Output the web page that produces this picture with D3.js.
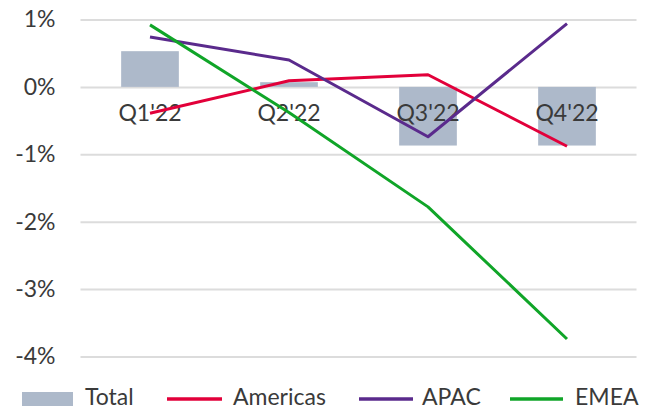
<!DOCTYPE html>
<html>
<head>
<meta charset="utf-8">
<script src="https://cdn.jsdelivr.net/npm/d3@7"></script>
<style>
  html, body { margin: 0; padding: 0; background: #fff; }
  svg { display: block; }
  text { font-family: Lato, "Open Sans", sans-serif; fill: #3a3a3a; }
</style>
</head>
<body>
<svg id="chart" width="656" height="412"></svg>
<script>
// Quarterly growth by region, with the total as bars
const categories = ["Q1'22", "Q2'22", "Q3'22", "Q4'22"];
const totalValues = [0.53, 0.07, -0.87, -0.87];
const americasValues = [-0.39, 0.09, 0.18, -0.88];
const apacValues = [0.74, 0.40, -0.74, 0.94];
const emeaValues = [0.92, -0.38, -1.78, -3.74];
const yTicks = [1, 0, -1, -2, -3, -4];

const lineSeries = [
  { name: "Americas", values: americasValues, color: "#e2003a" },
  { name: "APAC", values: apacValues, color: "#5a2a8c" },
  { name: "EMEA", values: emeaValues, color: "#10a528" }
];
const barColor = "#adb9ca";

const svg = d3.select("#chart");
const plotLeft = 80.5, plotRight = 636.5, plotTop = 19.5, plotBottom = 356.5;

const x = d3.scaleBand().domain(categories).range([plotLeft, plotRight]).padding(0);
const y = d3.scaleLinear().domain([-4, 1]).range([plotBottom, plotTop]);
const cx = c => x(c) + x.bandwidth() / 2;
const barW = x.bandwidth() * 0.415;

// horizontal gridlines
const grid = svg.append("g").attr("transform", `translate(${plotLeft},0)`)
  .call(d3.axisLeft(y).tickValues(yTicks).tickSize(-(plotRight - plotLeft)).tickFormat(""));
grid.select(".domain").remove();
grid.selectAll("line").attr("stroke", "#dcdcdc").attr("stroke-width", 2);

// y labels
const yAxis = svg.append("g").attr("transform", `translate(${plotLeft},0)`)
  .call(d3.axisLeft(y).tickValues(yTicks).tickSize(0).tickPadding(25).tickFormat(d => d + "%"));
yAxis.select(".domain").remove();
yAxis.selectAll("text").attr("font-size", 23).attr("font-family", null).attr("fill", "#3a3a3a");

// total bars
svg.append("g").selectAll("rect")
  .data(categories.map((c, i) => ({ c, v: totalValues[i] })))
  .join("rect")
  .attr("x", d => cx(d.c) - barW / 2)
  .attr("width", barW)
  .attr("y", d => y(Math.max(0, d.v)))
  .attr("height", d => Math.abs(y(d.v) - y(0)))
  .attr("fill", barColor);

// category labels sit just under the zero line
const xAxis = svg.append("g").attr("transform", `translate(0,${y(0)})`)
  .call(d3.axisBottom(x).tickSize(0).tickPadding(0));
xAxis.select(".domain").remove();
xAxis.selectAll("text").attr("y", 34).attr("dy", 0)
  .attr("font-size", 23).attr("font-family", null).attr("fill", "#3a3a3a");

// regional lines
const line = d3.line().x((v, i) => cx(categories[i])).y(v => y(v));
svg.append("g").selectAll("path")
  .data(lineSeries)
  .join("path")
  .attr("d", d => line(d.values))
  .attr("fill", "none")
  .attr("stroke", d => d.color)
  .attr("stroke-width", 3)
  .attr("stroke-linejoin", "round");

// legend
const legend = svg.append("g");
legend.append("rect").attr("x", 22).attr("y", 392).attr("width", 51).attr("height", 14).attr("fill", barColor);
legend.append("text").attr("x", 85).attr("y", 405).attr("font-size", 23).text("Total");
const legendPos = [{ x1: 167, x2: 222, tx: 233 }, { x1: 359, x2: 413, tx: 422 }, { x1: 510, x2: 563, tx: 575 }];
lineSeries.forEach((s, i) => {
  const p = legendPos[i];
  legend.append("line").attr("x1", p.x1).attr("x2", p.x2).attr("y1", 399).attr("y2", 399)
    .attr("stroke", s.color).attr("stroke-width", 3.5);
  legend.append("text").attr("x", p.tx).attr("y", 405).attr("font-size", 23).text(s.name);
});
</script>
</body>
</html>
